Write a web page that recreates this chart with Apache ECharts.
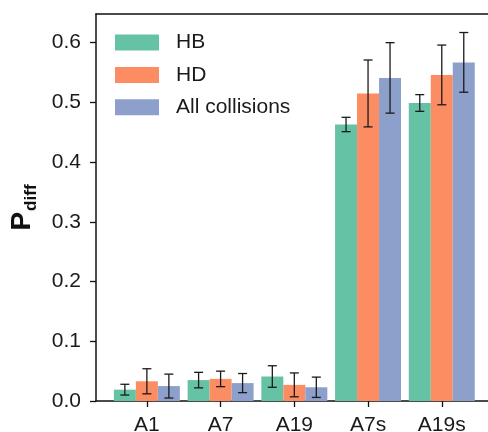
<!DOCTYPE html>
<html>
<head>
<meta charset="utf-8">
<script src="https://cdn.jsdelivr.net/npm/echarts@6/dist/echarts.min.js"></script>
<style>
  html, body { margin: 0; padding: 0; background: #fff; }
  #chart { width: 488px; height: 432px; }
</style>
</head>
<body>
<div id="chart"></div>
<script>
const categories = ['A1', 'A7', 'A19', 'A7s', 'A19s'];
const seriesNames = ['HB', 'HD', 'All collisions'];
const colors = ['#66c2a5', '#fc8d62', '#8da0cb'];

// mean values
const hbValues = [0.019, 0.035, 0.041, 0.463, 0.499];
const hdValues = [0.033, 0.037, 0.027, 0.515, 0.546];
const allValues = [0.025, 0.030, 0.023, 0.541, 0.567];

// error bar half-lengths
const hbErrors = [0.009, 0.013, 0.018, 0.012, 0.014];
const hdErrors = [0.021, 0.013, 0.020, 0.056, 0.050];
const allErrors = [0.020, 0.016, 0.017, 0.059, 0.050];

const yTicks = [0, 0.1, 0.2, 0.3, 0.4, 0.5, 0.6];

const font = 'Liberation Sans, Arial, sans-serif';
const barW = 22;

let chart = echarts.init(document.getElementById('chart'));

const values = [hbValues, hdValues, allValues];
const errors = [hbErrors, hdErrors, allErrors];

let errData = [];
values.forEach(function (vals, k) {
  vals.forEach(function (v, i) {
    errData.push([i, v, errors[k][i], k]);
  });
});

let series = seriesNames.map(function (name, k) {
  return {
    name: name,
    type: 'bar',
    barWidth: barW,
    barGap: '0%',
    itemStyle: { color: colors[k] },
    data: values[k].map(function (v, i) { return [i, v]; })
  };
});

series.push({
  type: 'custom',
  z: 10,
  silent: true,
  encode: { x: 0, y: 1 },
  renderItem: function (params, api) {
    const x = api.value(0), y = api.value(1), e = api.value(2), k = api.value(3);
    const hi = api.coord([x, y + e]);
    const lo = api.coord([x, y - e]);
    const px = hi[0] + (k - 1) * barW;
    const st = { stroke: '#1a1a1a', lineWidth: 1.3 };
    const cap = 4.5;
    return {
      type: 'group',
      children: [
        { type: 'line', shape: { x1: px, y1: hi[1], x2: px, y2: lo[1] }, style: st },
        { type: 'line', shape: { x1: px - cap, y1: hi[1], x2: px + cap, y2: hi[1] }, style: st },
        { type: 'line', shape: { x1: px - cap, y1: lo[1], x2: px + cap, y2: lo[1] }, style: st }
      ]
    };
  },
  data: errData
});

let option = {
  animation: false,
  textStyle: { fontFamily: font },
  grid: { left: 96, right: 0, top: 14, bottom: 31, outerBoundsMode: 'none', containLabel: false },
  legend: {
    orient: 'vertical',
    left: 115,
    top: 32,
    padding: 0,
    itemWidth: 44,
    itemHeight: 16,
    itemGap: 11.4,
    icon: 'rect',
    data: seriesNames,
    textStyle: { fontSize: 21, color: '#1a1a1a', fontFamily: font, padding: [0, 0, 0, 12] }
  },
  xAxis: [
    {
      type: 'value',
      min: -0.69,
      max: 4.627,
      splitLine: { show: false },
      axisLine: { show: true, lineStyle: { color: '#111', width: 1.5 } },
      axisTick: { show: true, length: 6, lineStyle: { color: '#111', width: 1.3 }, customValues: [0, 1, 2, 3, 4] },
      axisLabel: {
        customValues: [0, 1, 2, 3, 4],
        margin: 14,
        fontSize: 21,
        color: '#1a1a1a',
        fontFamily: font,
        formatter: function (v) { return categories[Math.round(v)]; }
      }
    },
    {
      type: 'value',
      position: 'top',
      min: -0.69,
      max: 4.627,
      splitLine: { show: false },
      axisLine: { show: true, lineStyle: { color: '#111', width: 1.5 } },
      axisTick: { show: false },
      axisLabel: { show: false }
    }
  ],
  yAxis: {
    type: 'value',
    min: 0,
    max: 0.648,
    splitLine: { show: false },
    axisLine: { show: true, onZero: false, lineStyle: { color: '#111', width: 1.5 } },
    axisTick: { show: true, length: 6, lineStyle: { color: '#111', width: 1.3 }, customValues: yTicks },
    axisLabel: {
      customValues: yTicks,
      margin: 15,
      fontSize: 21,
      color: '#1a1a1a',
      fontFamily: font,
      formatter: function (v) { return v.toFixed(1); }
    },
    name: '{p|P}{s|diff}',
    nameLocation: 'middle',
    nameRotate: 90,
    nameGap: 60,
    nameTextStyle: {
      rich: {
        p: { fontSize: 28, fontWeight: 'bold', color: '#111', fontFamily: font },
        s: { fontSize: 17, fontWeight: 'bold', color: '#111', fontFamily: font, verticalAlign: 'bottom', padding: [0, 0, -4, 1] }
      }
    }
  },
  series: series
};

option && chart.setOption(option, true);
</script>
</body>
</html>
